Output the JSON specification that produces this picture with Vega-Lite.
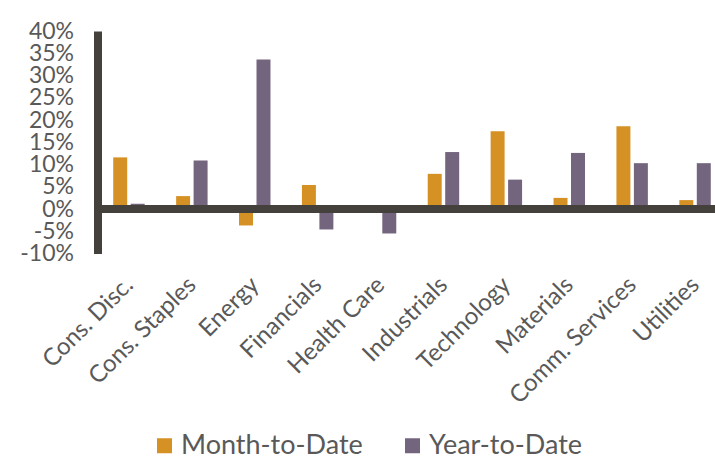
{
  "$schema": "https://vega.github.io/schema/vega-lite/v6.json",
  "width": 617.5,
  "height": 222.5,
  "autosize": {"type": "none"},
  "padding": {"left": 97.5, "top": 31, "right": 0, "bottom": 203.5},
  "background": "white",
  "config": {"view": {"stroke": null}, "font": "Lato"},
  "data": {
    "values": [
      {"sector": "Cons. Disc.", "period": "Month-to-Date", "value": 11.6},
      {"sector": "Cons. Disc.", "period": "Year-to-Date", "value": 1.2},
      {"sector": "Cons. Staples", "period": "Month-to-Date", "value": 2.9},
      {"sector": "Cons. Staples", "period": "Year-to-Date", "value": 10.9},
      {"sector": "Energy", "period": "Month-to-Date", "value": -3.7},
      {"sector": "Energy", "period": "Year-to-Date", "value": 33.6},
      {"sector": "Financials", "period": "Month-to-Date", "value": 5.4},
      {"sector": "Financials", "period": "Year-to-Date", "value": -4.6},
      {"sector": "Health Care", "period": "Month-to-Date", "value": 0},
      {"sector": "Health Care", "period": "Year-to-Date", "value": -5.5},
      {"sector": "Industrials", "period": "Month-to-Date", "value": 7.9},
      {"sector": "Industrials", "period": "Year-to-Date", "value": 12.8},
      {"sector": "Technology", "period": "Month-to-Date", "value": 17.5},
      {"sector": "Technology", "period": "Year-to-Date", "value": 6.6},
      {"sector": "Materials", "period": "Month-to-Date", "value": 2.5},
      {"sector": "Materials", "period": "Year-to-Date", "value": 12.6},
      {"sector": "Comm. Services", "period": "Month-to-Date", "value": 18.6},
      {"sector": "Comm. Services", "period": "Year-to-Date", "value": 10.3},
      {"sector": "Utilities", "period": "Month-to-Date", "value": 2.0},
      {"sector": "Utilities", "period": "Year-to-Date", "value": 10.3}
    ]
  },
  "layer": [
    {
      "mark": {"type": "bar"},
      "encoding": {
        "x": {
          "field": "sector",
          "type": "nominal",
          "sort": null,
          "scale": {"range": [0, 629], "paddingInner": 0.5, "paddingOuter": 0.25},
          "axis": {
            "title": null,
            "domain": false,
            "ticks": false,
            "labelAngle": -45,
            "labelFontSize": 24,
            "labelColor": "#595959",
            "labelPadding": 19,
            "labelOffset": -8,
            "labelFont": "Lato",
            "labelOverlap": false,
            "labelLimit": 300
          }
        },
        "xOffset": {
          "field": "period",
          "sort": ["Month-to-Date", "Year-to-Date"],
          "scale": {"paddingInner": 0.2}
        },
        "y": {
          "field": "value",
          "type": "quantitative",
          "scale": {"domain": [-10, 40], "nice": false},
          "axis": {
            "title": null,
            "grid": false,
            "ticks": false,
            "domain": true,
            "domainColor": "#44413d",
            "domainWidth": 8,
            "values": [-10, -5, 0, 5, 10, 15, 20, 25, 30, 35, 40],
            "tickCount": 30,
            "labelExpr": "datum.value + '%'",
            "labelFontSize": 23,
            "labelColor": "#595959",
            "labelPadding": 24,
            "labelFont": "Lato",
            "labelOverlap": false
          }
        },
        "color": {
          "field": "period",
          "type": "nominal",
          "scale": {"domain": ["Month-to-Date", "Year-to-Date"], "range": ["#d69125", "#74657f"]},
          "legend": {
            "title": null,
            "orient": "none",
            "legendX": 53.5,
            "legendY": 401,
            "direction": "horizontal",
            "symbolType": "square",
            "symbolSize": 225,
            "symbolStrokeWidth": 0,
            "labelFontSize": 27,
            "labelColor": "#595959",
            "labelFont": "Lato",
            "labelOffset": 3,
            "columnPadding": 36,
            "labelLimit": 400
          }
        }
      }
    },
    {
      "mark": {"type": "rule", "color": "#44413d", "strokeWidth": 8},
      "encoding": {"y": {"datum": 0}}
    }
  ]
}
